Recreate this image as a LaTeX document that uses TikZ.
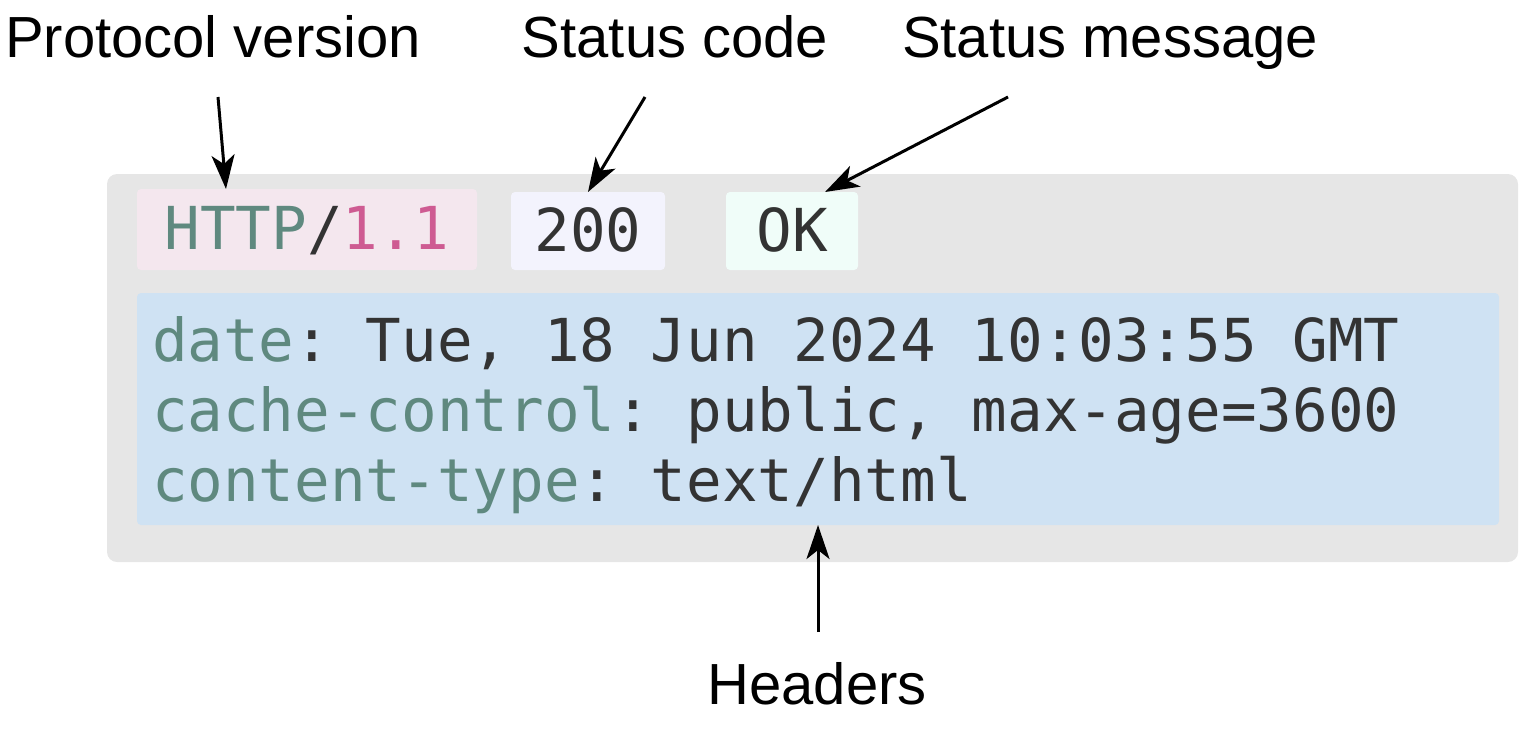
\documentclass[tikz,border=0pt]{standalone}
\usepackage{fontspec}
\setmainfont{Liberation Sans}
\setmonofont{DejaVu Sans Mono}
\usetikzlibrary{arrows.meta,positioning}

\definecolor{keyteal}{HTML}{5F897F}
\definecolor{verpink}{HTML}{CE5B92}
\definecolor{codegray}{HTML}{333333}
\definecolor{framegray}{HTML}{E6E6E6}
\definecolor{httpbg}{HTML}{F4E7EE}
\definecolor{codebg}{HTML}{F3F3FD}
\definecolor{okbg}{HTML}{F0FDF9}
\definecolor{hdrbg}{HTML}{CFE2F3}

\begin{document}
\begin{tikzpicture}[
        x=0.5pt, y=-0.5pt, % one unit = one pixel of the picture
        every node/.style={inner sep=0pt, outer sep=0pt},
        lbl/.style={anchor=base, font=\fontsize{29}{35}\selectfont},
        tag/.style={rounded corners=2pt, text height=20pt, text depth=0pt, text=codegray, font=\ttfamily\fontsize{29.6}{35}\selectfont},
        hline/.style={anchor=base west, text=codegray, font=\ttfamily\fontsize{29.6}{35}\selectfont},
        arr/.style={draw, line width=1.5pt, -{Stealth[length=17pt, width=11.5pt, inset=4.5pt]}}
    ]
    \useasboundingbox (0,0) rectangle (1529,729);

    % Nodes
    \node[fill=framegray, rounded corners=5pt, minimum width=705.5pt, minimum height=194pt] (frame) at (812.5,368) {};

    \node[tag, fill=httpbg, minimum width=170pt, minimum height=40.5pt] (http) at (307,229.5) {\textcolor{keyteal}{HTTP}/\textcolor{verpink}{1.1}};
    \node[tag, fill=codebg, minimum width=77pt, minimum height=39pt] (code) at (588,231) {200};
    \node[tag, fill=okbg, minimum width=66pt, minimum height=39pt] (ok) at (792,231) {OK};

    \node[fill=hdrbg, rounded corners=2pt, minimum width=681pt, minimum height=116pt] (hdrbox) at (818,409) {};
    \node[hline] (hdate) at (152,361) {\textcolor{keyteal}{date}: Tue, 18 Jun 2024 10:03:55 GMT};
    \node[hline] (hcache) at (152,431) {\textcolor{keyteal}{cache-control}: public, max-age=3600};
    \node[hline] (htype) at (152,501) {\textcolor{keyteal}{content-type}: text/html};

    \node[lbl] (pv) at (213,57) {Protocol version};
    \node[lbl] (sc) at (675,57) {Status code};
    \node[lbl] (sm) at (1110,57) {Status message};
    \node[lbl] (hdr) at (817,704) {Headers};

    \coordinate (pvtail) at (218,97);
    \coordinate (sctail) at (645,97);
    \coordinate (smtail) at (1008,97);
    \coordinate (hdrtail) at (818,632);

    % Edges
    \draw[arr] (pvtail) -- ([xshift=44.5pt]http.north west);
    \draw[arr] (sctail) -- (code.north);
    \draw[arr] (smtail) -- ([xshift=49.5pt]ok.north west);
    \draw[arr] (hdrtail) -- (hdrbox.south);

\end{tikzpicture}
\end{document}
